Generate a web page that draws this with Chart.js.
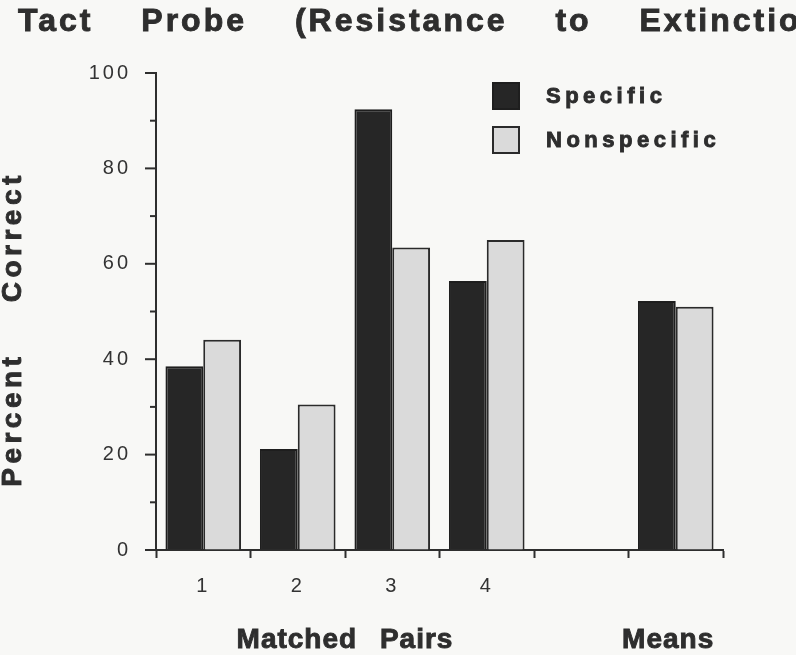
<!DOCTYPE html>
<html>
<head>
<meta charset="utf-8">
<script src="https://cdn.jsdelivr.net/npm/chart.js@4/dist/chart.umd.min.js"></script>
<style>
  html, body { margin: 0; padding: 0; background: #f8f8f6; }
  #wrap { width: 796px; height: 655px; position: relative; }
</style>
</head>
<body>
<div id="wrap"><canvas id="tactChart"></canvas></div>
<script>
// data
const categories = ['1', '2', '3', '4', '', 'Means'];
const specific = [38.5, 21.2, 92.4, 56.4, null, 52.2];
const nonspecific = [44.1, 30.5, 63.4, 65.0, null, 51.0];
const yTicks = [0, 20, 40, 60, 80, 100];

const titleText = 'Tact Probe (Resistance to Extinction)';
const yTitle = 'Percent Correct';
const groupLabels = [
    { text: 'Matched Pairs', at: 1.5 },
    { text: 'Means', at: 4.92 }
];

const INK = '#2e2e2e';
const DARK = '#262626';
const LIGHT = '#dadada';
const FONT = '"Liberation Sans", Arial, Helvetica, sans-serif';

// heavy lettering: fill plus a thin stroke of the same colour
function heavyText(ctx, text, x, y) {
    ctx.fillText(text, x, y);
    ctx.lineWidth = 0.9;
    ctx.strokeText(text, x, y);
}

const decorations = {
    id: 'decorations',
    beforeDraw(chart) {
        // the scan's lettering is spaced out, tick labels included
        chart.ctx.letterSpacing = '3px';
    },
    afterDraw(chart) {
        const { ctx, scales } = chart;
        const x = scales.x, y = scales.y;
        ctx.save();
        ctx.fillStyle = INK;
        ctx.strokeStyle = INK;

        // title, wide spaced and running off the right edge like the scan
        ctx.font = `bold 32px ${FONT}`;
        ctx.letterSpacing = '3px';
        ctx.wordSpacing = '36px';
        ctx.textBaseline = 'alphabetic';
        ctx.textAlign = 'left';
        heavyText(ctx, titleText, 18, 31);

        // y minor/major ticks
        ctx.lineWidth = 2;
        for (let v = 0; v <= 100; v += 10) {
            const py = y.getPixelForValue(v);
            const len = yTicks.includes(v) ? 11 : 6;
            ctx.beginPath();
            ctx.moveTo(y.right - len, py);
            ctx.lineTo(y.right + 1, py);
            ctx.stroke();
        }

        // rotated y title
        ctx.save();
        ctx.translate(13, 329);
        ctx.rotate(-Math.PI / 2);
        ctx.font = `bold 28px ${FONT}`;
        ctx.letterSpacing = '4.5px';
        ctx.wordSpacing = '38px';
        ctx.textAlign = 'center';
        ctx.textBaseline = 'middle';
        heavyText(ctx, yTitle, 0, 0);
        ctx.restore();

        // group labels under the axis
        ctx.font = `bold 28px ${FONT}`;
        ctx.letterSpacing = '1px';
        ctx.wordSpacing = '14px';
        ctx.textAlign = 'center';
        ctx.textBaseline = 'middle';
        groupLabels.forEach(g => {
            heavyText(ctx, g.text, x.getPixelForValue(g.at), 640);
        });

        // legend
        const items = chart.data.datasets;
        ctx.font = `bold 22px ${FONT}`;
        ctx.letterSpacing = '4.5px';
        ctx.wordSpacing = '0px';
        ctx.textAlign = 'left';
        items.forEach((ds, i) => {
            const top = 83 + i * 44;
            ctx.fillStyle = ds.backgroundColor;
            ctx.fillRect(493, top, 26, 26);
            ctx.lineWidth = 2;
            ctx.strokeStyle = ds.borderColor;
            ctx.strokeRect(493, top, 26, 26);
            ctx.fillStyle = INK;
            ctx.strokeStyle = INK;
            heavyText(ctx, ds.label, 546, top + 14);
        });
        ctx.restore();
    }
};

new Chart(document.getElementById('tactChart'), {
    type: 'bar',
    data: {
        labels: categories,
        datasets: [
            {
                label: 'Specific',
                data: specific,
                backgroundColor: DARK,
                borderColor: '#1e1e1e',
                borderWidth: 2,
                categoryPercentage: 0.8,
                barPercentage: 1.0
            },
            {
                label: 'Nonspecific',
                data: nonspecific,
                backgroundColor: LIGHT,
                borderColor: '#2a2a2a',
                borderWidth: 2,
                categoryPercentage: 0.8,
                barPercentage: 1.0
            }
        ]
    },
    options: {
        responsive: true,
        maintainAspectRatio: false,
        animation: false,
        layout: { padding: { top: 73, right: 73, left: 0, bottom: 0 } },
        plugins: {
            legend: { display: false },
            tooltip: { enabled: false }
        },
        scales: {
            x: {
                offset: true,
                grid: {
                    offset: true,
                    drawOnChartArea: false,
                    tickLength: 8,
                    tickWidth: 2,
                    tickColor: INK
                },
                border: { display: true, color: INK, width: 2 },
                ticks: {
                    color: '#333',
                    padding: 16,
                    font: { family: FONT, size: 20 },
                    // the means column carries no number, only the group label
                    callback: (v, i) => (i < 4 ? categories[i] : '')
                },
                afterFit(scale) { scale.height = 105; }
            },
            y: {
                min: 0,
                max: 100,
                ticks: {
                    stepSize: 20,
                    color: '#333',
                    padding: 25,
                    font: { family: FONT, size: 20 },
                    callback: v => (yTicks.includes(v) ? String(v) : '')
                },
                grid: { drawOnChartArea: false, drawTicks: false },
                border: { display: true, color: INK, width: 2 },
                afterFit(scale) { scale.width = 156; }
            }
        }
    },
    plugins: [decorations]
});
</script>
</body>
</html>
